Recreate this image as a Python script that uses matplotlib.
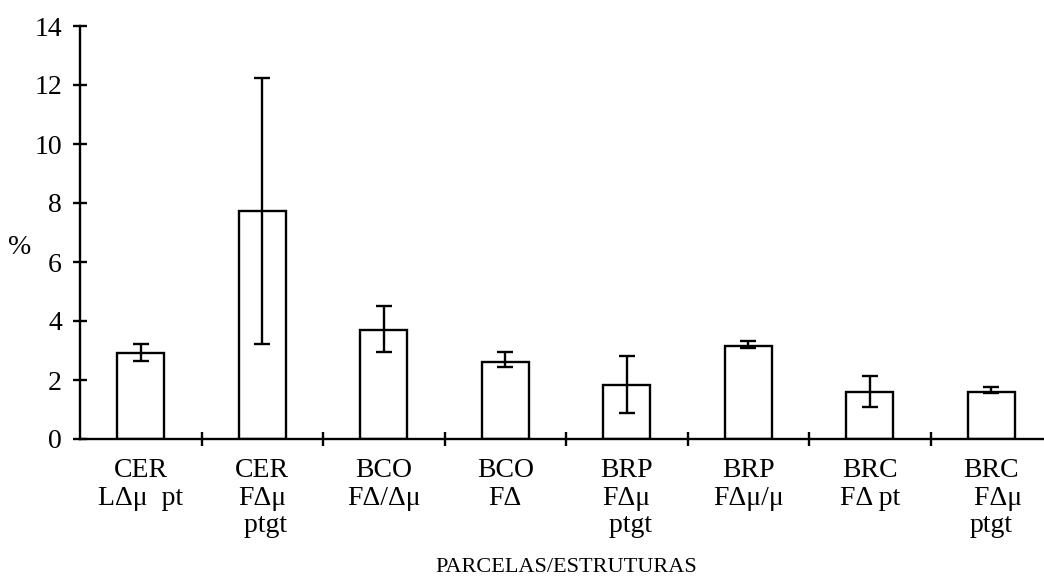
import matplotlib.pyplot as plt
import numpy as np

plt.rcParams["font.family"] = ["Liberation Serif", "DejaVu Serif"]

categories = [
    "CER\nLΔμ  pt",
    "CER\nFΔμ\n ptgt",
    "BCO\nFΔ/Δμ",
    "BCO\nFΔ",
    "BRP\nFΔμ\n ptgt",
    "BRP\nFΔμ/μ",
    "BRC\nFΔ pt",
    "BRC\n  FΔμ\nptgt",
]
means = [2.92, 7.74, 3.68, 2.62, 1.82, 3.14, 1.58, 1.60]
err_low = [0.28, 4.52, 0.72, 0.18, 0.94, 0.07, 0.50, 0.05]
err_high = [0.30, 4.49, 0.82, 0.32, 0.98, 0.17, 0.55, 0.17]


def main():
    fig = plt.figure(figsize=(10.44, 5.79), dpi=100)
    ax = fig.add_axes([80 / 1044, 140 / 579, 972 / 1044, 413 / 579])

    x = np.arange(len(means)) + 0.5
    ax.bar(x, means, width=0.39, color="white", edgecolor="black",
           linewidth=1.7, zorder=2)
    ax.errorbar(x, means, yerr=[err_low, err_high], fmt="none",
                ecolor="black", elinewidth=1.7, capsize=6, capthick=1.7,
                zorder=3)

    ax.set_xlim(0, len(means))
    ax.set_ylim(0, 14)
    ax.set_yticks(np.arange(0, 15, 2))
    ax.set_xticks(np.arange(1, len(means)))
    ax.set_xticklabels([])
    ax.set_xticks(x, minor=True)
    ax.set_xticklabels(categories, minor=True, fontsize=20,
                       linespacing=1.12)

    for side in ["top", "right"]:
        ax.spines[side].set_visible(False)
    for side in ["left", "bottom"]:
        ax.spines[side].set_linewidth(1.7)

    ax.tick_params(axis="both", which="major", direction="inout",
                   length=10, width=1.7, labelsize=20)
    ax.tick_params(axis="y", pad=8)
    ax.tick_params(axis="x", which="minor", length=0, pad=14)

    fig.text(20 / 1044, 1 - 248 / 579, "%", fontsize=20,
             ha="center", va="center")
    fig.text(566 / 1044, 1 - 568 / 579, "PARCELAS/ESTRUTURAS", fontsize=16,
             ha="center", va="center")

    fig.savefig("out.png", dpi=100)
    plt.close(fig)


if __name__ == "__main__":
    main()
